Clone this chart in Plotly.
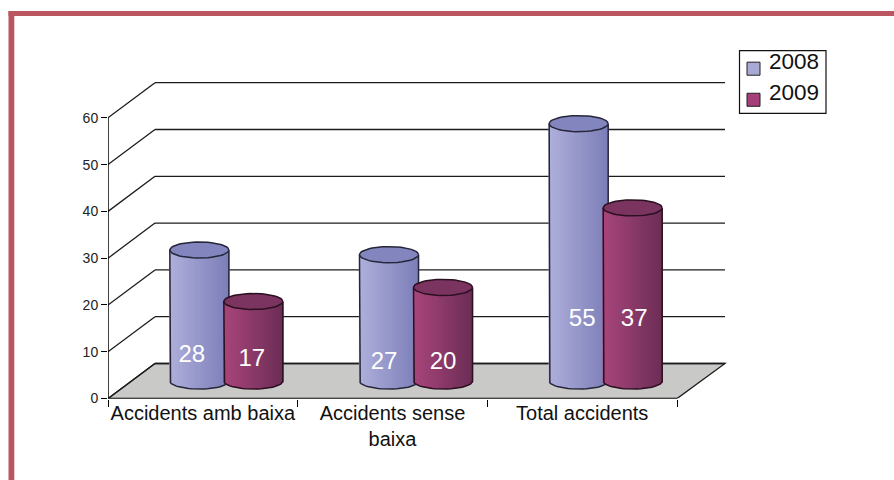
import numpy as np
import plotly.graph_objects as go

categories = ["Accidents amb baixa", "Accidents sense<br>baixa", "Total accidents"]
series_names = ["2008", "2009"]
values_2008 = [28, 27, 55]
values_2009 = [17, 20, 37]
y_ticks = [0, 10, 20, 30, 40, 50, 60]

# hand placement of the value labels inside each cylinder (axis units / px nudge)
label_h_2008 = [9.1, 7.6, 16.8]
label_h_2009 = [8.25, 7.6, 16.8]
label_nudge_2008 = [-7.5, -5, 3.5]
label_nudge_2009 = [-1.5, 0, 1.5]

KY = 1 / 0.981         # vertical correction between layout px and the photographed page
W, H = 894, 490
X0, X1 = 108, 732      # plot area, px
Y0, Y1 = 397.5 * KY, 76 * KY
CAT_PX = 189.67        # width of one category
UNIT_PX = 4.667 * KY   # px per value unit
DX = 47 / CAT_PX       # depth shift of the back wall, in x units
DY = 35 * KY / UNIT_PX # depth shift of the back wall, in y units
XMAX = (X1 - X0) / CAT_PX
XBACK = (725 - X0) / CAT_PX
YMAX = (Y0 - Y1) / UNIT_PX
NCAT = len(categories)

CYL_W = 59 / CAT_PX
CYL_OFF = 27 / CAT_PX
ELL = 8 * KY / UNIT_PX
N = 30

GRID = "#1c1c1c"
FLOOR = "#c9c9c7"
FRAME = "#b95660"
STYLE = {
    "2008": dict(left=(176, 176, 220), right=(124, 127, 184), cap="#8386be", swatch="#a9a9d6", edge="#26263a"),
    "2009": dict(left=(170, 70, 124), right=(108, 46, 86), cap="#7b3360", swatch="#a43f78", edge="#2a1020"),
}

fig = go.Figure()
shapes = []
annotations = []


def line(x0, y0, x1, y1, color=GRID, w=1.3):
    shapes.append(dict(type="line", xref="x", yref="y", x0=x0, y0=y0, x1=x1, y1=y1,
                       line=dict(color=color, width=w), layer="below"))


def px_rect(x0, y0, x1, y1, **kw):
    shapes.append(dict(type="rect", xref="paper", yref="paper", x0=x0 / W, x1=x1 / W,
                       y0=1 - y1 * KY / H, y1=1 - y0 * KY / H, **kw))


# Frame
px_rect(8.5, 11, W, 16, fillcolor=FRAME, line_width=0, layer="below")
px_rect(8.5, 11, 14.3, H, fillcolor=FRAME, line_width=0, layer="below")

# Floor
shapes.append(dict(type="path", xref="x", yref="y", layer="below", fillcolor=FLOOR,
                   path=f"M 0 0 L {DX} {DY} L {XBACK} {DY} L {NCAT} 0 Z",
                   line=dict(color=GRID, width=1.3)))
# Back-wall gridlines and side-wall obliques
for v in y_ticks:
    line(DX, v + DY, XBACK, v + DY)
    line(0, v, DX, v + DY)
# Front axes
line(0, 0, 0, max(y_ticks), "#000000", 1.5)
line(0, 0, NCAT, 0, "#000000", 1.8)


def cylinder_traces(name, values, sign, xa, ya, label_h, nudge):
    st = STYLE[name]
    xs, bases, tops, cols, widths = [], [], [], [], []
    cap_x, cap_y, out_x, out_y = [], [], [], []
    theta = np.linspace(0, 2 * np.pi, 50)
    half = np.linspace(np.pi, 2 * np.pi, 30)
    lab_x = []
    for i, v in enumerate(values):
        c = i + 0.5 + DX / 2 + sign * CYL_OFF
        lab_x.append(c + nudge[i] / CAT_PX)
        rx = CYL_W / 2
        for k in range(N):
            t = (k + 0.5) / N
            px = c - rx + t * CYL_W
            rel = (px - c) / rx
            arc = ELL * np.sqrt(max(0, 1 - rel ** 2))
            low = DY / 2 - arc
            up = v + DY / 2 - arc + 0.3
            xs.append(px)
            bases.append(low)
            tops.append(up - low)
            widths.append(CYL_W / N * 1.6)
            col = tuple(int(st["left"][j] + (st["right"][j] - st["left"][j]) * t) for j in range(3))
            cols.append(f"rgb{col}")
        cap_x += list(c + rx * np.cos(theta)) + [None]
        cap_y += list(v + DY / 2 + ELL * np.sin(theta)) + [None]
        out_x += [c - rx] + list(c + rx * np.cos(half)) + [c + rx, None]
        out_y += [v + DY / 2] + list(DY / 2 + ELL * np.sin(half)) + [v + DY / 2, None]
    fig.add_trace(go.Bar(x=xs, y=tops, base=bases, width=widths, marker=dict(color=cols, line_width=0),
                         name=name, showlegend=False, hoverinfo="skip", xaxis=xa, yaxis=ya))
    fig.add_trace(go.Scatter(x=out_x, y=out_y, mode="lines", line=dict(color=st["edge"], width=1.5),
                             showlegend=False, hoverinfo="skip", xaxis=xa, yaxis=ya))
    fig.add_trace(go.Scatter(x=cap_x, y=cap_y, mode="lines", fill="toself", fillcolor=st["cap"],
                             line=dict(color=st["edge"], width=1.5), showlegend=False, hoverinfo="skip",
                             xaxis=xa, yaxis=ya))
    fig.add_trace(go.Scatter(x=lab_x, y=label_h, mode="text", text=[str(v) for v in values],
                             textfont=dict(family="Liberation Sans", size=24, color="white"),
                             showlegend=False, hoverinfo="skip", xaxis=xa, yaxis=ya))


cylinder_traces("2008", values_2008, -1, "x", "y", label_h_2008, label_nudge_2008)
cylinder_traces("2009", values_2009, 1, "x2", "y2", label_h_2009, label_nudge_2009)

# Legend box, drawn to the source's exact proportions
px_rect(739.5, 50.5, 826, 113, fillcolor="white", line=dict(color="#111", width=1.2), layer="above")
for name, sy, ty in zip(series_names, [62, 93], [61, 92]):
    px_rect(747, sy, 760, sy + 13, fillcolor=STYLE[name]["swatch"], line=dict(color="#222", width=1), layer="above")
    annotations.append(dict(xref="paper", yref="paper", x=767 / W, y=1 - ty * KY / H, xanchor="left", yanchor="middle",
                            text=name, showarrow=False,
                            font=dict(family="Liberation Sans", size=22.5, color="#111")))

dom_x = [X0 / W, X1 / W]
dom_y = [1 - Y0 / H, 1 - Y1 / H]

fig.update_layout(
    margin=dict(l=0, r=0, t=0, b=0, pad=0), width=W, height=H,
    paper_bgcolor="white", plot_bgcolor="rgba(0,0,0,0)", barmode="overlay",
    shapes=shapes, annotations=annotations, showlegend=False,
    xaxis=dict(domain=dom_x, range=[0, XMAX], showgrid=False, zeroline=False, showline=False,
               tickmode="array", tickvals=[i + 0.5 for i in range(NCAT)], ticktext=categories, ticks="",
               minor=dict(tickmode="array", tickvals=list(range(NCAT + 1)), ticks="outside", ticklen=7,
                          tickcolor="#000", tickwidth=1.3, showgrid=False),
               tickfont=dict(family="Liberation Sans", size=20, color="#111")),
    yaxis=dict(domain=dom_y, range=[0, YMAX], showgrid=False, zeroline=False, showline=False,
               tickmode="array", tickvals=y_ticks, ticks="outside", ticklen=6, tickcolor="#000", tickwidth=1.3,
               tickfont=dict(family="Liberation Sans", size=14, color="#222")),
    xaxis2=dict(domain=dom_x, range=[0, XMAX], overlaying="x", visible=False, anchor="y2"),
    yaxis2=dict(domain=dom_y, range=[0, YMAX], overlaying="y", visible=False, anchor="x2"),
)

post = "document.body.style.margin='0';document.documentElement.style.overflow='hidden';"
fig.write_html("out.html", config=dict(displayModeBar=False),
               default_width=f"{W}px", default_height=f"{H}px", post_script=post)
